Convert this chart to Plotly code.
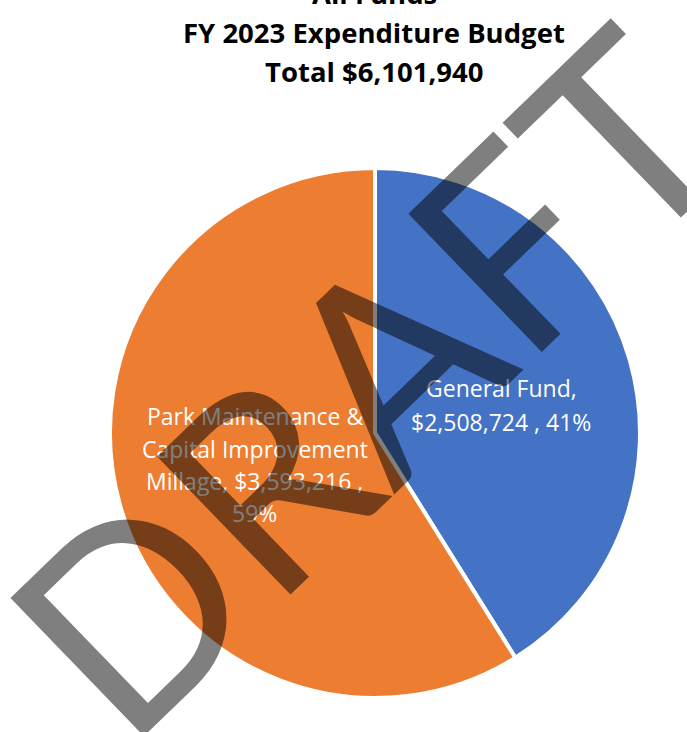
import textwrap
import plotly.graph_objects as go

W, H = 687, 732

# ---- data ----
categories = ["General Fund", "Park Maintenance & Capital Improvement Millage"]
values = [2508724, 3593216]
colors = ["#4472C4", "#ED7D31"]
title_lines = ["All Funds", "FY 2023 Expenditure Budget", "Total $6,101,940"]
watermark = "DRAFT"

total = sum(values)

def px(x, y):
    return x / W, 1 - y / H

fig = go.Figure()
fig.add_trace(go.Pie(
    labels=categories,
    values=values,
    sort=False,
    direction="clockwise",
    rotation=0,
    marker=dict(colors=colors, line=dict(color="white", width=4)),
    textinfo="none",
    hoverinfo="label+value+percent",
    showlegend=False,
    domain=dict(x=[(375 - 265) / W, (375 + 265) / W],
                y=[(H - 433 - 265) / H, (H - 433 + 265) / H]),
))

annotations = []

# title lines (baselines in px)
TS = 27.5
title_font = dict(family="Open Sans", size=TS, color="black", weight="bold")
for line, base in zip(title_lines, [4, 43, 82]):
    x, y = px(374, base - 0.388 * TS)
    annotations.append(dict(text=line, x=x, y=y, xref="paper", yref="paper",
                            xanchor="center", yanchor="middle", showarrow=False,
                            font=title_font))

# data labels
LS = 23
label_font = dict(family="Open Sans", size=LS, color="white")
label_pos = [(501, [397, 431]), (255, [425, 458, 490, 522])]
for cat, val, (cx, bases) in zip(categories, values, label_pos):
    txt = f"{cat}, ${val:,} , {round(100 * val / total)}%"
    lines = textwrap.wrap(txt, width=21)
    for line, base in zip(lines, bases):
        x, y = px(cx, base - 0.388 * LS)
        annotations.append(dict(text=line, x=x, y=y, xref="paper", yref="paper",
                                xanchor="center", yanchor="middle", showarrow=False,
                                font=label_font))

# watermark on top
wx, wy = px(364, 379)
annotations.append(dict(text=watermark, x=wx, y=wy, xref="paper", yref="paper",
                        xanchor="center", yanchor="middle", showarrow=False,
                        textangle=-44,
                        font=dict(family="Lato", size=268, color="rgba(0,0,0,0.5)", weight=400)))

fig.update_layout(
    width=W, height=H,
    margin=dict(l=0, r=0, t=0, b=0),
    paper_bgcolor="white",
    plot_bgcolor="white",
    annotations=annotations,
)

fig.write_html("out.html", config={"displayModeBar": False},
               post_script="document.body.style.margin='0px';")
